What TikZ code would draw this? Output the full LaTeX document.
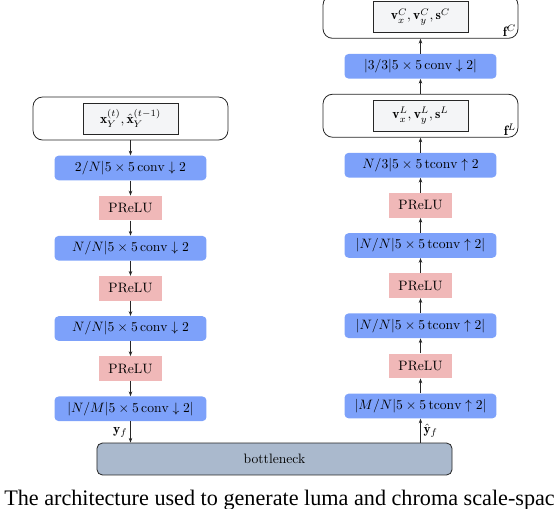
\documentclass[tikz,border=0pt]{standalone}
\usepackage{amsmath}
\usepackage{fontspec}
\newfontfamily\capfont{Liberation Serif}
\usetikzlibrary{arrows.meta, positioning}

\definecolor{convblue}{RGB}{125,161,250}
\definecolor{actpink}{RGB}{240,184,184}
\definecolor{neckgray}{RGB}{170,185,205}
\definecolor{innergray}{RGB}{244,245,247}

\begin{document}
\begin{tikzpicture}[
        x=0.735pt, y=-0.735pt,
        node distance=11pt,
        conv/.style={rectangle, fill=convblue, minimum width=111.7pt, minimum height=18.1pt, rounded corners=3pt, inner sep=0pt},
        act/.style={rectangle, fill=actpink, minimum width=46.3pt, minimum height=18.1pt, inner sep=0pt},
        featframe/.style={rectangle, draw=black!85, line width=0.6pt, rounded corners=7pt, minimum width=143.3pt, minimum height=31.6pt},
        feat/.style={rectangle, draw=black!85, line width=0.6pt, fill=innergray, minimum width=69.8pt, minimum height=22.8pt, inner sep=0pt},
        neck/.style={rectangle, draw=black!85, line width=0.6pt, fill=neckgray, rounded corners=4pt, minimum width=261pt, minimum height=23.5pt},
        arrow/.style={-{Stealth[length=3.5pt, width=2.6pt]}, line width=0.5pt, draw=black!85}
    ]
    \path[use as bounding box, clip] (0,0) rectangle (554,508);

    % analysis (left)
    \node (frameY) [featframe] at (130.5,118.5) {};
    \node (inY) [feat] at (frameY) {$\mathbf{x}_Y^{(t)}, \hat{\mathbf{x}}_Y^{(t-1)}$};
    \node (down1) [conv, below=of frameY] {$2/N|5\times 5\,\mathrm{conv}\downarrow 2$};
    \node (actL1) [act, below=of down1] {PReLU};
    \node (down2) [conv, below=of actL1] {$N/N|5\times 5\,\mathrm{conv}\downarrow 2$};
    \node (actL2) [act, below=of down2] {PReLU};
    \node (down3) [conv, below=of actL2] {$N/N|5\times 5\,\mathrm{conv}\downarrow 2$};
    \node (actL3) [act, below=of down3] {PReLU};
    \node (down4) [conv, below=of actL3] {$|N/M|5\times 5\,\mathrm{conv}\downarrow 2|$};

    \node (bneck) [neck] at (274.5,459) {bottleneck};

    % synthesis (right)
    \node (up1) [conv] at (420.5,406) {$|M/N|5\times 5\,\mathrm{tconv}\uparrow 2|$};
    \node (actR1) [act, above=of up1] {PReLU};
    \node (up2) [conv, above=of actR1] {$|N/N|5\times 5\,\mathrm{tconv}\uparrow 2|$};
    \node (actR2) [act, above=of up2] {PReLU};
    \node (up3) [conv, above=of actR2] {$|N/N|5\times 5\,\mathrm{tconv}\uparrow 2|$};
    \node (actR3) [act, above=of up3] {PReLU};
    \node (up4) [conv, above=of actR3] {$N/3|5\times 5\,\mathrm{tconv}\uparrow 2$};
    \node (frameL) [featframe, above=of up4] {};
    \node (inL) [feat] at (frameL) {$\mathbf{v}_x^L, \mathbf{v}_y^L, \mathbf{s}^L$};
    \node (fL) [anchor=south east, inner sep=1.5pt] at (frameL.south east) {$\mathbf{f}^L$};
    \node (chroma) [conv, above=of frameL] {$|3/3|5\times 5\,\mathrm{conv}\downarrow 2|$};
    \node (frameC) [featframe, above=of chroma] {};
    \node (inC) [feat] at (frameC) {$\mathbf{v}_x^C, \mathbf{v}_y^C, \mathbf{s}^C$};
    \node (fC) [anchor=south east, inner sep=1.5pt] at (frameC.south east) {$\mathbf{f}^C$};

    \node (caption) [anchor=base west, inner sep=0pt, font=\capfont\fontsize{16.3}{19}\selectfont] at (4,505) {The architecture used to generate luma and chroma scale-space};

    \draw [arrow] (frameY) -- (down1);
    \draw [arrow] (down1) -- (actL1);
    \draw [arrow] (actL1) -- (down2);
    \draw [arrow] (down2) -- (actL2);
    \draw [arrow] (actL2) -- (down3);
    \draw [arrow] (down3) -- (actL3);
    \draw [arrow] (actL3) -- (down4);
    \draw [arrow] (down4) -- node[left, inner sep=2pt] {$\mathbf{y}_f$} (down4 |- bneck.north);

    \draw [arrow] (up1 |- bneck.north) -- node[right, inner sep=2pt] {$\hat{\mathbf{y}}_f$} (up1);
    \draw [arrow] (up1) -- (actR1);
    \draw [arrow] (actR1) -- (up2);
    \draw [arrow] (up2) -- (actR2);
    \draw [arrow] (actR2) -- (up3);
    \draw [arrow] (up3) -- (actR3);
    \draw [arrow] (actR3) -- (up4);
    \draw [arrow] (up4) -- (frameL);
    \draw [arrow] (frameL) -- (chroma);
    \draw [arrow] (chroma) -- (frameC);

\end{tikzpicture}
\end{document}
